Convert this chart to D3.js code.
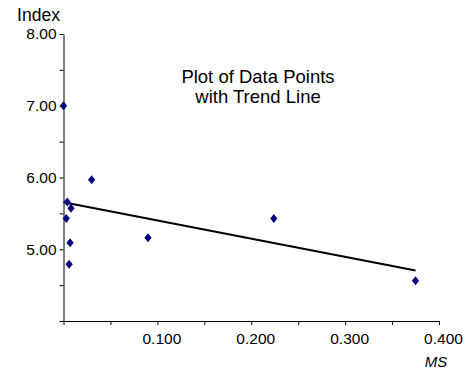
<!DOCTYPE html>
<html>
<head>
<meta charset="utf-8">
<script src="https://cdn.jsdelivr.net/npm/d3@7"></script>
<style>
  body { margin: 0; background: #fff; }
  text { font-family: "Liberation Sans", Arial, sans-serif; fill: #000; }
</style>
</head>
<body>
<div id="chart"></div>
<script>
// data
var msValues    = [0.000, 0.004, 0.008, 0.003, 0.030, 0.007, 0.006, 0.090, 0.224, 0.375];
var indexValues = [7.00, 5.66, 5.57, 5.43, 5.97, 5.09, 4.79, 5.16, 5.43, 4.56];

var xTicks = [0, 0.05, 0.1, 0.15, 0.2, 0.25, 0.3, 0.35, 0.4];
var xLabels = [0.1, 0.2, 0.3, 0.4];
var yTicks = [4, 4.5, 5, 5.5, 6, 6.5, 7, 7.5, 8];
var yLabels = [5, 6, 7, 8];

var titleLines = ["Plot of Data Points", "with Trend Line"];

var width = 465, height = 369;
var margin = { top: 34, right: 26, bottom: 48, left: 63.5 };

var svg = d3.select("#chart").append("svg")
  .attr("width", width)
  .attr("height", height);

var x = d3.scaleLinear().domain([0, 0.4]).range([margin.left, width - margin.right]);
var y = d3.scaleLinear().domain([4, 8]).range([height - margin.bottom, margin.top]);

// x axis
var xAxis = d3.axisBottom(x)
  .tickValues(xTicks)
  .tickSize(4)
  .tickPadding(8)
  .tickSizeOuter(0)
  .tickFormat(function(d) {
    return xLabels.some(function(v) { return Math.abs(v - d) < 1e-9; }) ? d3.format(".3f")(d) : "";
  });

svg.append("g")
  .attr("transform", "translate(0," + y(4) + ")")
  .call(xAxis)
  .call(function(g) {
    g.select(".domain").attr("stroke", "#000");
    g.selectAll("text").style("font-size", "15.5px").attr("fill", "#000").attr("dx", 4);
  });

// y axis
var yAxis = d3.axisLeft(y)
  .tickValues(yTicks)
  .tickSize(4)
  .tickPadding(3)
  .tickSizeOuter(0)
  .tickFormat(function(d) {
    return yLabels.indexOf(d) >= 0 ? d3.format(".2f")(d) : "";
  });

svg.append("g")
  .attr("transform", "translate(" + x(0) + ",0)")
  .call(yAxis)
  .call(function(g) {
    g.select(".domain").attr("stroke", "#000");
    g.selectAll("text").style("font-size", "15.5px").attr("fill", "#000");
  });

// trend line (least squares)
var n = msValues.length;
var mx = d3.mean(msValues), my = d3.mean(indexValues);
var sxy = 0, sxx = 0;
for (var i = 0; i < n; i++) {
  sxy += (msValues[i] - mx) * (indexValues[i] - my);
  sxx += (msValues[i] - mx) * (msValues[i] - mx);
}
var slope = sxy / sxx;
var intercept = my - slope * mx;
var xExt = d3.extent(msValues);

svg.append("line")
  .attr("x1", x(xExt[0]))
  .attr("y1", y(intercept + slope * xExt[0]))
  .attr("x2", x(xExt[1]))
  .attr("y2", y(intercept + slope * xExt[1]))
  .attr("stroke", "#000")
  .attr("stroke-width", 2);

// points
svg.append("g")
  .selectAll("path")
  .data(msValues)
  .enter().append("path")
  .attr("d", "M0,-4.5L3.6,0L0,4.5L-3.6,0Z")
  .attr("transform", function(d, i) { return "translate(" + x(d) + "," + y(indexValues[i]) + ")"; })
  .attr("fill", "#000080");

// labels
svg.append("text")
  .attr("x", 38.5)
  .attr("y", 21)
  .attr("text-anchor", "middle")
  .style("font-size", "17.5px")
  .text("Index");

svg.append("text")
  .attr("x", 436)
  .attr("y", 367)
  .attr("text-anchor", "middle")
  .style("font-size", "15px")
  .style("font-style", "italic")
  .text("MS");

svg.append("g")
  .selectAll("text")
  .data(titleLines)
  .enter().append("text")
  .attr("x", 258)
  .attr("y", function(d, i) { return 83 + i * 20; })
  .attr("text-anchor", "middle")
  .style("font-size", "18.5px")
  .text(function(d) { return d; });
</script>
</body>
</html>
